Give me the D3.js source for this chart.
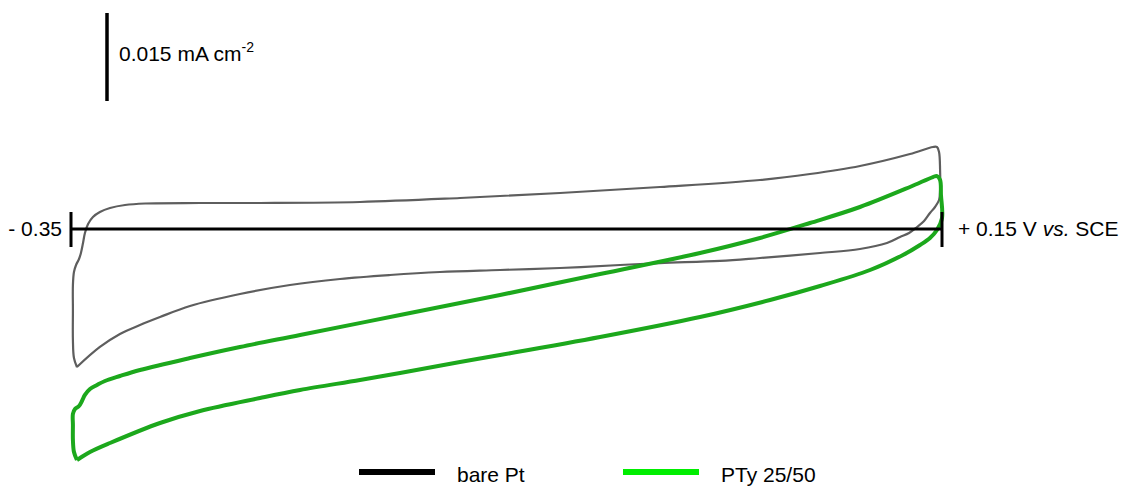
<!DOCTYPE html>
<html>
<head>
<meta charset="utf-8">
<script src="https://cdn.jsdelivr.net/npm/d3@7"></script>
<style>
  html, body { margin: 0; padding: 0; background: #fff; }
  svg { display: block; font-family: "Liberation Sans", Arial, sans-serif; }
</style>
</head>
<body>
<svg id="cv" width="1122" height="486"></svg>
<script>
// Potential window (V vs. SCE) and current scale bar (mA cm-2)
const potentialLimits = [-0.35, 0.15];
const scaleBarCurrent = 0.015;
const limitLabels = ["- 0.35", "+ 0.15 V "];
const seriesNames = ["bare Pt", "PTy 25/50"];

// Bare Pt cyclic voltammogram: potential (V) and current density (mA cm-2)
const barePtE = [-0.3466, -0.3483, -0.3489, -0.3489, -0.3489, -0.3483, -0.3471, -0.3454, -0.3443, -0.3431,
  -0.3420, -0.3402, -0.3374, -0.3334, -0.3276, -0.3190, -0.3075, -0.2759, -0.2415, -0.1841,
  -0.1267, -0.0693, -0.0119, 0.0455, 0.0742, 0.1029, 0.1316, 0.1448, 0.1471, 0.1483,
  0.1489, 0.1489, 0.1483, 0.1460, 0.1431, 0.1397, 0.1357, 0.1311, 0.1259, 0.1184,
  0.1029, 0.0800, 0.0455, 0.0226, -0.0119, -0.0348, -0.0693, -0.1037, -0.1382, -0.1669,
  -0.1956, -0.2243, -0.2530, -0.2817, -0.2989, -0.3104, -0.3219, -0.3334, -0.3466];
const barePtJ = [-0.02352, -0.02199, -0.01892, -0.01381, -0.00955, -0.00733, -0.00614, -0.00511, -0.00409, -0.00239,
  -0.00068, 0.00085, 0.00205, 0.00290, 0.00358, 0.00409, 0.00435, 0.00443, 0.00443, 0.00460,
  0.00528, 0.00614, 0.00716, 0.00835, 0.00937, 0.01074, 0.01278, 0.01398, 0.01398, 0.01312,
  0.01006, 0.00665, 0.00494, 0.00375, 0.00273, 0.00136, 0.00034, -0.00068, -0.00136, -0.00239,
  -0.00341, -0.00409, -0.00494, -0.00545, -0.00580, -0.00614, -0.00665, -0.00699, -0.00733, -0.00784,
  -0.00852, -0.00955, -0.01108, -0.01312, -0.01500, -0.01636, -0.01790, -0.02011, -0.02352];

// PTy 25/50 coated electrode cyclic voltammogram
const ptyE = [-0.3466, -0.3483, -0.3489, -0.3489, -0.3489, -0.3477, -0.3454, -0.3437, -0.3420, -0.3391,
  -0.3351, -0.3305, -0.3219, -0.3104, -0.2817, -0.2530, -0.2185, -0.1611, -0.1037, -0.0463,
  0.0111, 0.0455, 0.0742, 0.1029, 0.1316, 0.1448, 0.1471, 0.1489, 0.1494, 0.1500,
  0.1471, 0.1431, 0.1374, 0.1276, 0.1087, 0.0800, 0.0513, 0.0111, -0.0463, -0.1037,
  -0.1267, -0.1611, -0.1841, -0.2185, -0.2415, -0.2759, -0.2989, -0.3276, -0.3391, -0.3448,
  -0.3466];
const ptyJ = [-0.03937, -0.03801, -0.03596, -0.03341, -0.03153, -0.03068, -0.03017, -0.02932, -0.02829, -0.02727,
  -0.02659, -0.02591, -0.02506, -0.02403, -0.02199, -0.02011, -0.01807, -0.01466, -0.01125, -0.00767,
  -0.00409, -0.00153, 0.00102, 0.00375, 0.00716, 0.00886, 0.00903, 0.00835, 0.00580, 0.00187,
  -0.00017, -0.00153, -0.00273, -0.00443, -0.00699, -0.00972, -0.01210, -0.01500, -0.01841, -0.02148,
  -0.02267, -0.02454, -0.02574, -0.02744, -0.02881, -0.03102, -0.03307, -0.03648, -0.03801, -0.03903,
  -0.03937];

const svg = d3.select("#cv");

const x = d3.scaleLinear().domain(potentialLimits).range([71, 942]);
const y = d3.scaleLinear().domain([0, scaleBarCurrent]).range([229, 141]);

const line = d3.line()
  .x(d => x(d[0]))
  .y(d => y(d[1]))
  .curve(d3.curveCatmullRom.alpha(0.5));

const barePt = barePtE.map((e, i) => [e, barePtJ[i]]);
const pty = ptyE.map((e, i) => [e, ptyJ[i]]);

// bare Pt trace (thin grey)
svg.append("path")
  .datum(barePt)
  .attr("d", line)
  .attr("fill", "none")
  .attr("stroke", "#5e5e5e")
  .attr("stroke-width", 2.2)
  .attr("stroke-linejoin", "round");

// PTy 25/50 trace (thick green)
svg.append("path")
  .datum(pty)
  .attr("d", line)
  .attr("fill", "none")
  .attr("stroke", "#1ca81c")
  .attr("stroke-width", 4)
  .attr("stroke-linejoin", "round");

// zero-current potential axis with end ticks
const axisG = svg.append("g");
axisG.append("line")
  .attr("x1", x(potentialLimits[0])).attr("x2", x(potentialLimits[1]))
  .attr("y1", y(0)).attr("y2", y(0))
  .attr("stroke", "#000").attr("stroke-width", 3);
potentialLimits.forEach(p => {
  axisG.append("line")
    .attr("x1", x(p)).attr("x2", x(p))
    .attr("y1", y(0) - 17).attr("y2", y(0) + 18)
    .attr("stroke", "#000").attr("stroke-width", 3);
});

axisG.append("text")
  .attr("x", x(potentialLimits[0]) - 9).attr("y", y(0) + 7)
  .attr("text-anchor", "end")
  .attr("font-size", 21)
  .text(limitLabels[0]);

const rightLabel = axisG.append("text")
  .attr("x", x(potentialLimits[1]) + 16).attr("y", y(0) + 7)
  .attr("font-size", 21);
rightLabel.append("tspan").text(limitLabels[1]);
rightLabel.append("tspan").attr("font-style", "italic").text("vs.");
rightLabel.append("tspan").text(" SCE");

// current scale bar
const barLen = y(0) - y(scaleBarCurrent);
svg.append("line")
  .attr("x1", 107).attr("x2", 107)
  .attr("y1", 13).attr("y2", 13 + barLen)
  .attr("stroke", "#000").attr("stroke-width", 3.5);

const barLabel = svg.append("text")
  .attr("x", 119).attr("y", 61)
  .attr("font-size", 21);
barLabel.append("tspan").text(scaleBarCurrent + " mA cm");
barLabel.append("tspan").attr("font-size", 14).attr("dy", -9).text("-2");

// legend
const legendColors = ["#000000", "#00ee00"];
const legendX = [359, 623];
seriesNames.forEach((name, i) => {
  svg.append("line")
    .attr("x1", legendX[i]).attr("x2", legendX[i] + 76)
    .attr("y1", 472).attr("y2", 472)
    .attr("stroke", legendColors[i]).attr("stroke-width", 6);
  svg.append("text")
    .attr("x", legendX[i] + 98).attr("y", 482)
    .attr("font-size", 21)
    .text(name);
});
</script>
</body>
</html>
